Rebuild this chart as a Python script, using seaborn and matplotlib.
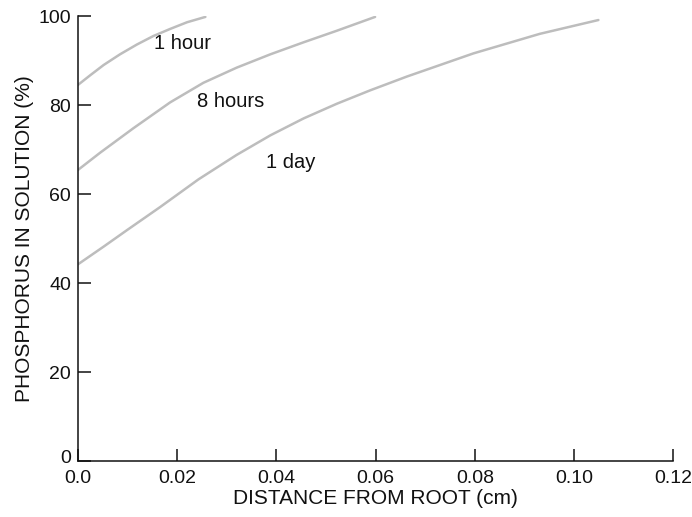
import pandas as pd
import numpy as np
import seaborn as sns
import matplotlib.pyplot as plt
from matplotlib.transforms import ScaledTranslation

# values
hour1_x = [0.0, 0.0025, 0.0052, 0.0085, 0.0119, 0.0152, 0.0186, 0.022, 0.0257]
hour1_y = [84.5, 86.7, 89.0, 91.4, 93.6, 95.5, 97.1, 98.6, 99.8]

hours8_x = [0.0, 0.0045, 0.0112, 0.0186, 0.0253, 0.032, 0.0388, 0.0455, 0.0522, 0.0599]
hours8_y = [65.4, 69.3, 74.8, 80.6, 85.0, 88.4, 91.4, 94.1, 96.7, 99.8]

day1_x = [0.0, 0.0052, 0.0099, 0.0166, 0.0243, 0.032, 0.0388, 0.0455, 0.0522,
          0.0589, 0.0663, 0.0797, 0.0931, 0.1049]
day1_y = [44.2, 48.2, 51.9, 57.1, 63.3, 68.8, 73.2, 77.0, 80.3,
          83.3, 86.4, 91.6, 96.0, 99.1]

curve_names = ['1 hour', '8 hours', '1 day']
label_pos = [(0.0211, 93.9), (0.0307, 80.9), (0.0428, 67.0)]

df = pd.concat([
    pd.DataFrame({'x': hour1_x, 'y': hour1_y, 'curve': '1 hour'}),
    pd.DataFrame({'x': hours8_x, 'y': hours8_y, 'curve': '8 hours'}),
    pd.DataFrame({'x': day1_x, 'y': day1_y, 'curve': '1 day'}),
])

sns.set_style('ticks')
plt.rcParams['font.family'] = ['Liberation Sans', 'DejaVu Sans']

fig = plt.figure(figsize=(6.92, 5.17), dpi=100)
ax = fig.add_axes([0.1125, 0.108, 0.8605, 0.861])

sns.lineplot(data=df, x='x', y='y', units='curve', estimator=None, sort=True,
             color='#bdbdbd', linewidth=1.8, ax=ax, legend=False)

for name, (lx, ly) in zip(curve_names, label_pos):
    ax.text(lx, ly, name, ha='center', va='center', fontsize=14.5, color='#111111')

ax.set_xlim(0, 0.12)
ax.set_ylim(0, 100)
ax.set_xticks(np.arange(0, 0.121, 0.02))
ax.set_xticklabels(['0.0', '0.02', '0.04', '0.06', '0.08', '0.10', '0.12'])
ax.set_yticks([0, 20, 40, 60, 80, 100])
ax.set_yticklabels(['0', '20', '40', '60', '80', '100'])
ax.tick_params(direction='in', length=9, width=1.1, labelsize=14, colors='#111111')
ax.tick_params(axis='x', pad=6.5)
ax.tick_params(axis='y', pad=5)
ax.set_xlabel('DISTANCE FROM ROOT (cm)', fontsize=15, color='#111111', labelpad=1)
ax.set_ylabel('PHOSPHORUS IN SOLUTION (%)', fontsize=15, color='#111111', labelpad=3)
sns.despine(ax=ax)
for s in ['left', 'bottom']:
    ax.spines[s].set_linewidth(1.1)
    ax.spines[s].set_color('#111111')

# the "0" on the y axis sits a little above the x axis in the original
zero_lab = ax.get_yticklabels()[0]
zero_lab.set_transform(zero_lab.get_transform() + ScaledTranslation(0, 5 / 100, fig.dpi_scale_trans))

fig.savefig('out.png', dpi=100)
